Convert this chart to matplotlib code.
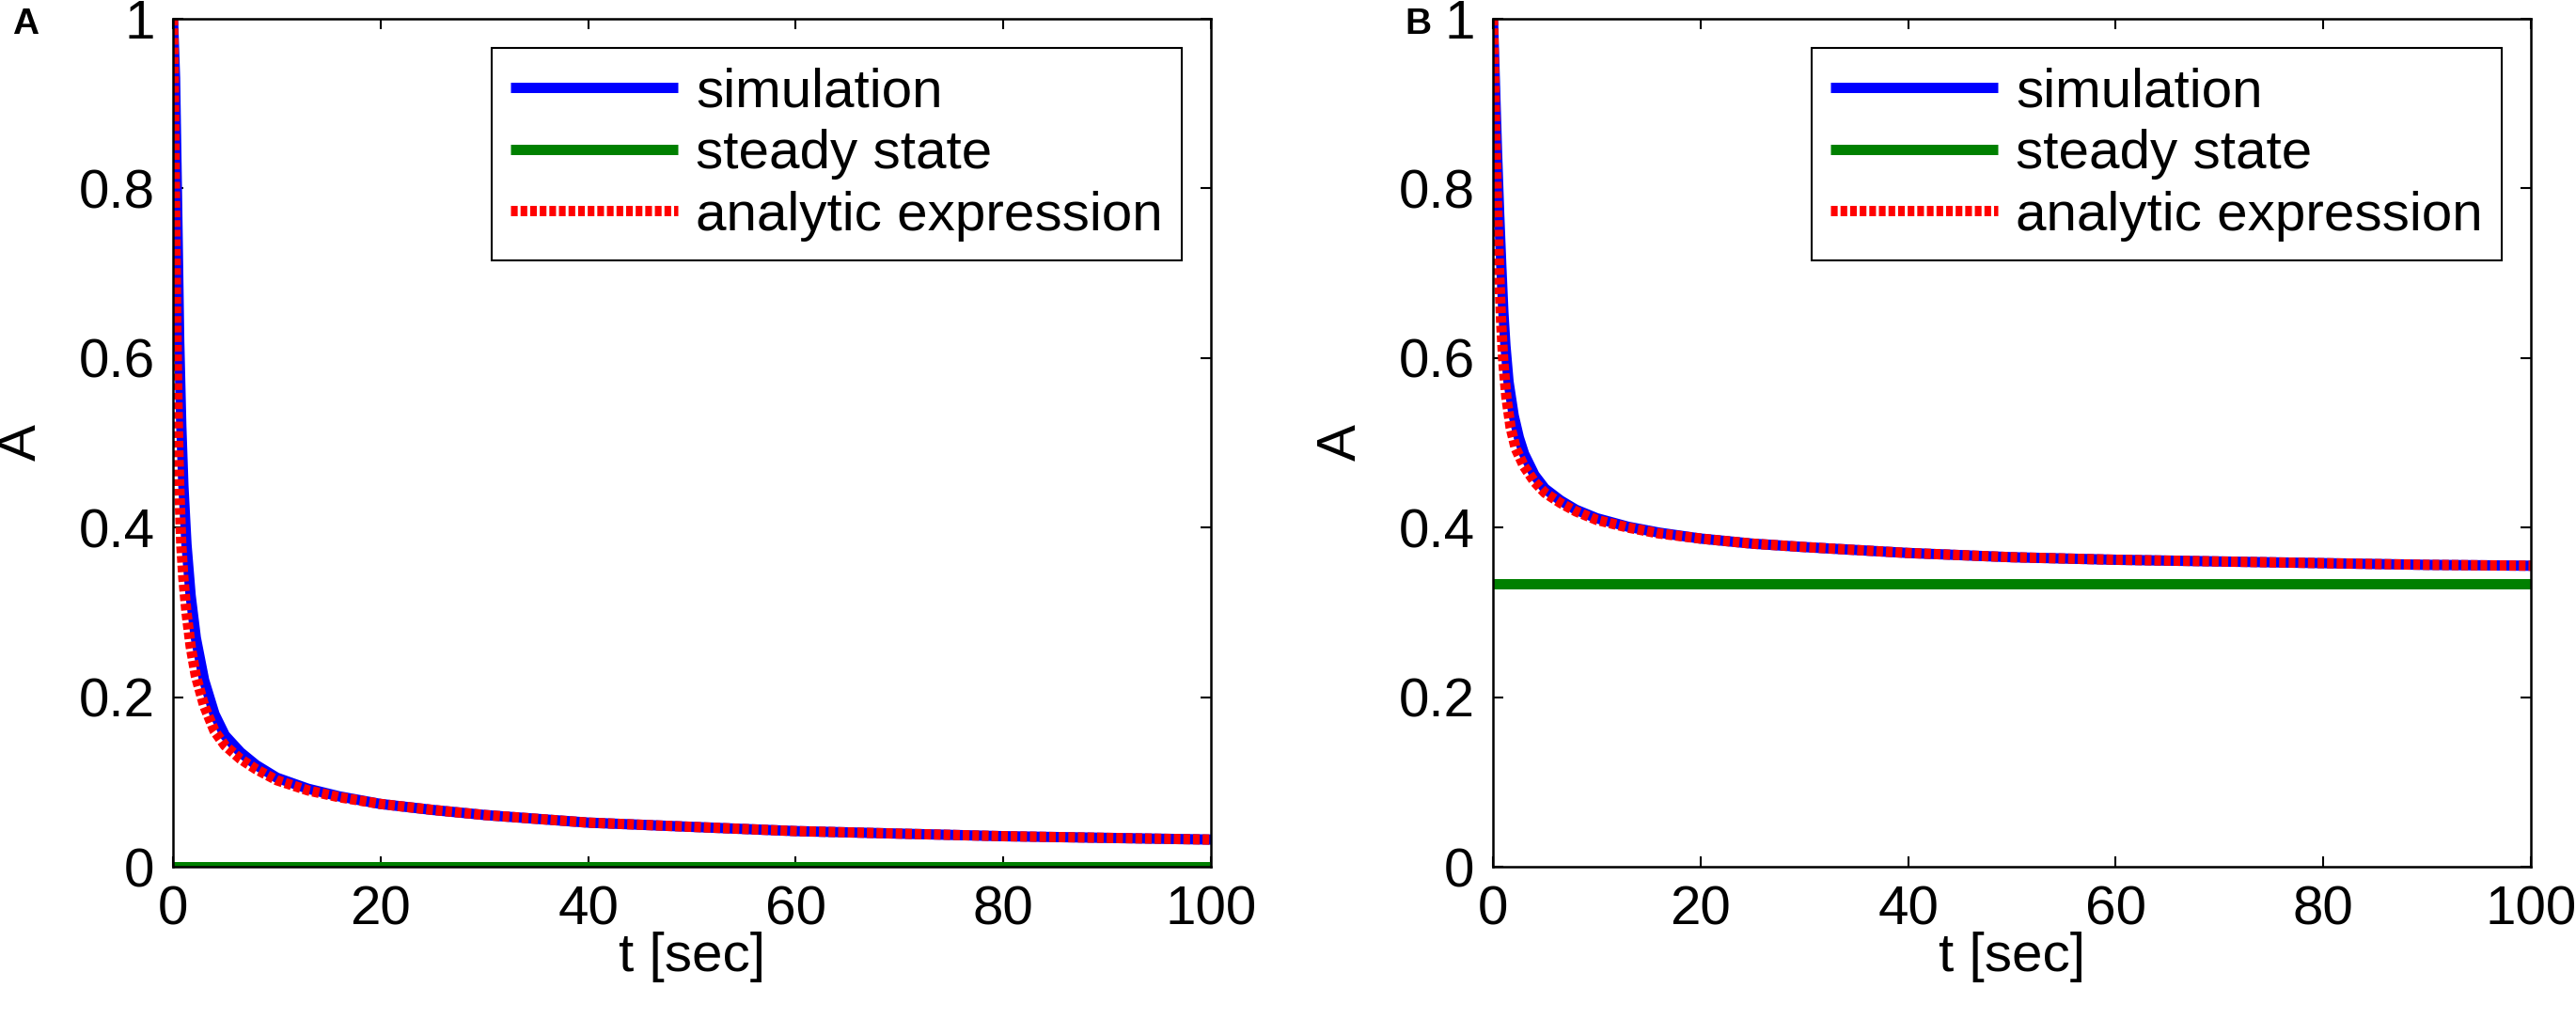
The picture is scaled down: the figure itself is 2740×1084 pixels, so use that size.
import matplotlib
matplotlib.use("Agg")
import matplotlib.pyplot as plt

plt.rcParams['font.family'] = ['Liberation Sans', 'DejaVu Sans']

# ---------------- data ----------------
# Panel A
tA_sim = [0, 0.2, 0.4, 0.6, 0.8, 1.0, 1.3, 1.7, 2.2, 3, 4, 5, 6.5, 8, 10, 13, 16,
          20, 25, 30, 40, 50, 60, 70, 80, 90, 100]
yA_sim = [1.0, 0.93, 0.78, 0.62, 0.52, 0.45, 0.38, 0.32, 0.27, 0.22, 0.18, 0.155,
          0.135, 0.12, 0.105, 0.092, 0.083, 0.074, 0.067, 0.061, 0.052, 0.047,
          0.042, 0.039, 0.036, 0.034, 0.032]
tA_ana = [0, 0.1, 0.2, 0.3, 0.4, 0.5, 0.6, 0.8, 1.0, 1.3, 1.7, 2.2, 3, 4, 5, 6.5,
          8, 10, 13, 16, 20, 25, 30, 40, 50, 60, 70, 80, 90, 100]
yA_ana = [1.0, 0.9, 0.78, 0.66, 0.57, 0.5, 0.45, 0.38, 0.34, 0.3, 0.26, 0.225,
          0.19, 0.16, 0.143, 0.127, 0.115, 0.102, 0.09, 0.082, 0.074, 0.067,
          0.061, 0.052, 0.047, 0.042, 0.039, 0.036, 0.034, 0.032]
steady_A = 0.0

# Panel B
tB_sim = [0, 0.2, 0.4, 0.6, 0.8, 1.0, 1.2, 1.5, 2, 2.5, 3, 4, 5, 6.5, 8, 10, 13,
          16, 20, 25, 30, 40, 50, 60, 70, 80, 90, 100]
yB_sim = [1.0, 0.92, 0.84, 0.77, 0.71, 0.655, 0.615, 0.572, 0.532, 0.506, 0.487,
          0.462, 0.446, 0.432, 0.421, 0.411, 0.401, 0.394, 0.387, 0.381, 0.377,
          0.37, 0.365, 0.362, 0.36, 0.358, 0.356, 0.355]
tB_ana = [0, 0.2, 0.4, 0.6, 0.8, 1.0, 1.3, 1.7, 2.2, 3, 4, 5, 6.5, 8, 10, 13, 16,
          20, 25, 30, 40, 50, 60, 70, 80, 90, 100]
yB_ana = [1.0, 0.88, 0.78, 0.70, 0.64, 0.595, 0.553, 0.518, 0.493, 0.472, 0.454,
          0.441, 0.429, 0.419, 0.409, 0.40, 0.393, 0.387, 0.381, 0.377, 0.37,
          0.365, 0.362, 0.36, 0.358, 0.356, 0.355]
steady_B = 1.0 / 3.0

x_ticks = [0, 20, 40, 60, 80, 100]
y_ticks = [0, 0.2, 0.4, 0.6, 0.8, 1.0]
y_ticklabels = ['0', '0.2', '0.4', '0.6', '0.8', '1']
legend_labels = ['simulation', 'steady state', 'analytic expression']
panel_labels = ['A', 'B']
x_label = 't [sec]'
y_label = 'A'

# ---------------- figure ----------------
W, H = 2740, 1084
DPI = 100
fig = plt.figure(figsize=(W / DPI, H / DPI), dpi=DPI)

FS = 42
LW = 7.9
ax_w = 1104 / W
ax_h = 902 / H
ax_b = (H - 922) / H
lefts = [184 / W, 1588 / W]

panels = [
    (tA_sim, yA_sim, tA_ana, yA_ana, steady_A),
    (tB_sim, yB_sim, tB_ana, yB_ana, steady_B),
]

for i, (ts, ys, ta, ya, ss) in enumerate(panels):
    ax = fig.add_axes([lefts[i], ax_b, ax_w, ax_h])
    ax.plot(ts, ys, color='#0000ff', lw=LW, solid_capstyle='butt',
            solid_joinstyle='round', label=legend_labels[0])
    ax.plot([0, 100], [ss, ss], color='#008000', lw=LW, solid_capstyle='butt',
            label=legend_labels[1])
    ax.plot(ta, ya, color='#ff0000', lw=LW, linestyle=(0, (0.65, 0.28)),
            dash_capstyle='butt', label=legend_labels[2])
    ax.set_xlim(0, 100)
    ax.set_ylim(0, 1)
    ax.set_xticks(x_ticks)
    ax.set_xticklabels([str(v) for v in x_ticks])
    ax.set_yticks(y_ticks)
    ax.set_yticklabels(y_ticklabels)
    for sp in ax.spines.values():
        sp.set_linewidth(1.8)
        sp.set_color('black')
    ax.tick_params(axis='both', which='both', direction='in', length=8,
                   width=1.5, top=True, right=True, labelsize=FS)
    ax.tick_params(axis='x', pad=14)
    ax.tick_params(axis='y', pad=14)
    ax.set_xlabel(x_label, fontsize=FS, labelpad=-3)
    ax.set_ylabel(y_label, fontsize=FS, labelpad=24)
    leg = ax.legend(loc='upper right', fontsize=FS, frameon=True, fancybox=False,
                    edgecolor='black', framealpha=1, borderaxespad=0.53,
                    handlelength=3.05, handletextpad=0.32, labelspacing=0.2,
                    borderpad=0.35)
    leg.get_frame().set_linewidth(1.5)

fig.text(13 / W, 1 - 8 / H, panel_labels[0], fontsize=28, fontweight='bold',
         ha='left', va='top')
fig.text(1494 / W, 1 - 8 / H, panel_labels[1], fontsize=28, fontweight='bold',
         ha='left', va='top')

fig.savefig('out.png', dpi=DPI)
